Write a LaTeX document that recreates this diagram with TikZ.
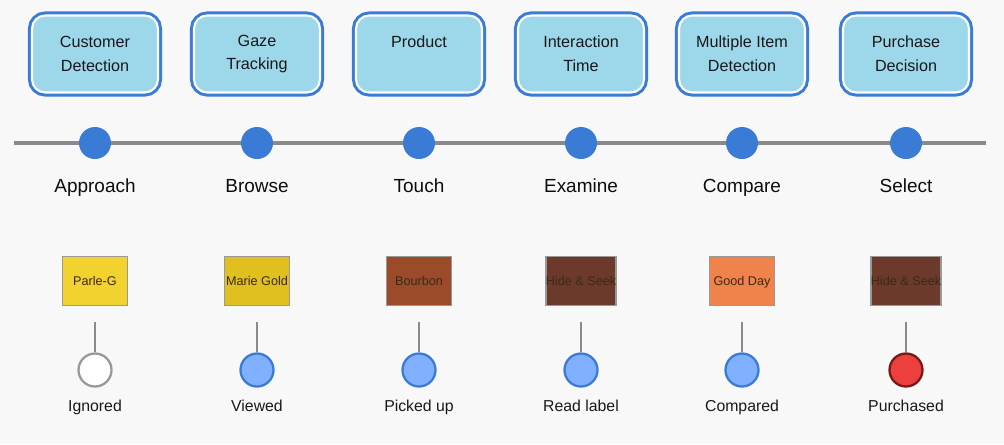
\documentclass[tikz,border=0pt]{standalone}
\usepackage{tikz, xcolor}
\usepackage{fontspec}
\setmainfont{Liberation Sans}

\definecolor{bgray}{HTML}{F8F8F8}
\definecolor{stepblue}{HTML}{3A7BD5}
\definecolor{boxcyan}{HTML}{9DD8EA}
\definecolor{linegray}{HTML}{8A8A8A}
\definecolor{lightblue}{HTML}{80B0FF}
\definecolor{buyred}{HTML}{EE3F3F}
\definecolor{darkred}{HTML}{7A1818}
\definecolor{parleyellow}{HTML}{F2D22E}
\definecolor{mariegold}{HTML}{E0C020}
\definecolor{bourbon}{HTML}{9B4A2A}
\definecolor{hideseek}{HTML}{6B3A2A}
\definecolor{goodday}{HTML}{F0824C}
\definecolor{packtext}{HTML}{3B2A1A}

\begin{document}
\begin{tikzpicture}[x=0.02cm, y=-0.02cm,
    sensor/.style={preaction={draw=stepblue, line width=4.6pt}, draw=white, line width=1.2pt,
        fill=boxcyan, rounded corners=7.5pt, minimum width=2.52cm, minimum height=1.54cm,
        align=center, font=\fontsize{9.2}{13.6}\selectfont, text=black!90},
    dot/.style={circle, fill=stepblue, minimum size=0.64cm, inner sep=0pt},
    stage/.style={anchor=base, font=\fontsize{10.8}{13}\selectfont, text=black!95},
    pack/.style={draw=black!40, line width=0.9pt, minimum width=1.3cm, minimum height=0.98cm,
        inner sep=0pt, text height=5.2pt, text depth=0pt,
        font=\fontsize{7.2}{9}\selectfont, text=packtext},
    status/.style={circle, line width=1.3pt, minimum size=0.66cm, inner sep=0pt},
    result/.style={anchor=base, font=\fontsize{9}{11}\selectfont, text=black!90},
    stem/.style={draw=linegray, line width=0.9pt, shorten <=0.32cm}]

    \fill[bgray] (0,0) rectangle (1004,444);

    % sensing boxes
    \node[sensor] (cust) at (95,54) {Customer\\Detection};
    \node[sensor] (gaze) at (257,54) {Gaze\\Tracking};
    \node[sensor] (prod) at (419,54) {Product\\\phantom{Product}};
    \node[sensor] (inter) at (581,54) {Interaction\\Time};
    \node[sensor] (multi) at (742,54) {Multiple Item\\Detection};
    \node[sensor] (purch) at (906,54) {Purchase\\Decision};

    % timeline
    \coordinate (tl) at (14,143);
    \coordinate (tr) at (986,143);
    \draw[linegray, line width=2.8pt] (tl) -- (tr);

    \node[dot] (approach) at (95,143) {};
    \node[dot] (browse) at (257,143) {};
    \node[dot] (touch) at (419,143) {};
    \node[dot] (examine) at (581,143) {};
    \node[dot] (compare) at (742,143) {};
    \node[dot] (select) at (906,143) {};

    \node[stage] at (95,192) {Approach};
    \node[stage] at (257,192) {Browse};
    \node[stage] at (419,192) {Touch};
    \node[stage] at (581,192) {Examine};
    \node[stage] at (742,192) {Compare};
    \node[stage] at (906,192) {Select};

    % biscuit packs
    \node[pack, fill=parleyellow] (parle) at (95,281) {Parle-G};
    \node[pack, fill=mariegold] (marie) at (257,281) {Marie Gold};
    \node[pack, fill=bourbon] (bourb) at (419,281) {Bourbon};
    \node[pack, fill=hideseek] (hidea) at (581,281) {Hide \& Seek};
    \node[pack, fill=goodday] (good) at (742,281) {Good Day};
    \node[pack, fill=hideseek] (hideb) at (906,281) {Hide \& Seek};

    % outcomes
    \node[status, draw=black!40, fill=white] (ign) at (95,370) {};
    \node[status, draw=stepblue, fill=lightblue] (view) at (257,370) {};
    \node[status, draw=stepblue, fill=lightblue] (pick) at (419,370) {};
    \node[status, draw=stepblue, fill=lightblue] (read) at (581,370) {};
    \node[status, draw=stepblue, fill=lightblue] (comp) at (742,370) {};
    \node[status, draw=darkred, fill=buyred] (buy) at (906,370) {};

    \draw[stem] (parle) -- (ign);
    \draw[stem] (marie) -- (view);
    \draw[stem] (bourb) -- (pick);
    \draw[stem] (hidea) -- (read);
    \draw[stem] (good) -- (comp);
    \draw[stem] (hideb) -- (buy);

    \node[result] at (95,411) {Ignored};
    \node[result] at (257,411) {Viewed};
    \node[result] at (419,411) {Picked up};
    \node[result] at (581,411) {Read label};
    \node[result] at (742,411) {Compared};
    \node[result] at (906,411) {Purchased};

\end{tikzpicture}
\end{document}
